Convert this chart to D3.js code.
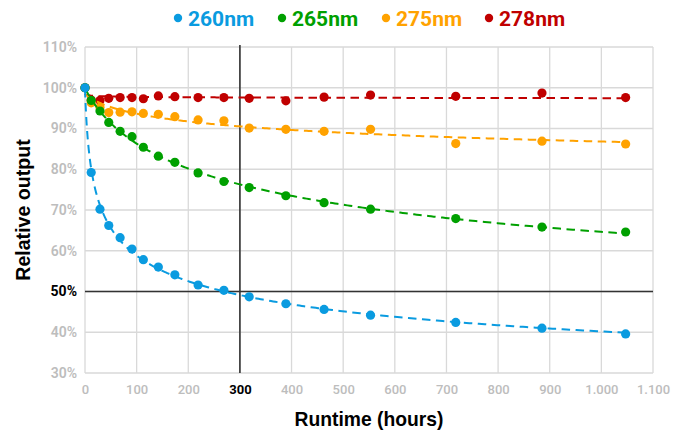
<!DOCTYPE html>
<html><head><meta charset="utf-8">
<script src="https://cdn.jsdelivr.net/npm/d3@7"></script>
<style>body{margin:0;background:#fff}</style>
</head><body><svg id="c" width="681" height="431"></svg>
<script>
// ---- data ----
const hours = [0,12,29,46,68,91,113,142,174,219,269,318,389,463,553,718,885,1047];
const s260 = [100,79.2,70.2,66.2,63.2,60.4,57.8,56.0,54.1,51.6,50.3,48.7,47.0,45.6,44.2,42.4,41.0,39.6];
const s265 = [100,96.9,94.3,91.5,89.3,88.0,85.4,83.2,81.7,79.1,77.0,75.5,73.5,71.8,70.2,67.9,65.8,64.6];
const s275 = [100,96.3,95.2,93.9,94.0,94.1,93.7,93.5,92.9,92.1,91.9,90.1,89.8,89.3,89.8,86.3,86.9,86.2];
const s278 = [100,97.0,96.9,97.4,97.6,97.6,97.3,98.0,97.8,97.6,97.6,97.4,96.8,97.7,98.2,97.9,98.7,97.6];
const seriesNames = ["260nm","265nm","275nm","278nm"];
const seriesColors = ["#0a9be0","#00a000","#ffa200","#c00000"];
const xTicks = [0,100,200,300,400,500,600,700,800,900,1000,1100];
const yTicks = [30,40,50,60,70,80,90,100,110];
const xMark = 300, yMark = 50;

const series = [s260,s265,s275,s278].map((v,i)=>({name:seriesNames[i],color:seriesColors[i],values:v}));

const W=681,H=431, m={left:85,right:28,top:47,bottom:58};
const svg=d3.select("#c");
const x=d3.scaleLinear().domain([0,1100]).range([m.left,W-m.right]);
const y=d3.scaleLinear().domain([30,110]).range([H-m.bottom,m.top]);
const loc=d3.formatLocale({decimal:",",thousands:".",grouping:[3],currency:["",""]});
const fx=loc.format(",");
const font="Roboto, 'Liberation Sans', Arial, sans-serif";
const tfont="'Liberation Sans', Arial, Helvetica, sans-serif";

// grid
const g=svg.append("g");
g.selectAll(".vg").data(xTicks).join("line")
 .attr("x1",d=>x(d)).attr("x2",d=>x(d)).attr("y1",y(30)).attr("y2",y(110))
 .attr("stroke","#d9d9d9").attr("stroke-width",1.3);
g.selectAll(".hg").data(yTicks).join("line")
 .attr("x1",x(0)).attr("x2",x(1100)).attr("y1",d=>y(d)).attr("y2",d=>y(d))
 .attr("stroke","#d9d9d9").attr("stroke-width",1.3);

// axes labels
const xa=d3.axisBottom(x).tickValues(xTicks).tickFormat(fx).tickSize(0).tickPadding(12);
const xg=svg.append("g").attr("transform",`translate(0,${y(30)})`).call(xa);
xg.select(".domain").remove();
xg.selectAll("text").attr("font-family",font).attr("font-size",13).attr("font-weight",d=>d===xMark?700:500)
 .attr("fill",d=>d===xMark?"#000":"#bdbdbd");
const ya=d3.axisLeft(y).tickValues(yTicks).tickFormat(d=>d+"%").tickSize(0).tickPadding(8);
const yg=svg.append("g").attr("transform",`translate(${x(0)},0)`).call(ya);
yg.select(".domain").remove();
yg.selectAll("text").attr("font-family",font).attr("font-size",14).attr("font-weight",d=>d===yMark?700:600)
 .attr("fill",d=>d===yMark?"#000":"#bdbdbd");

// reference lines
svg.append("line").attr("x1",x(xMark)).attr("x2",x(xMark)).attr("y1",y(30)).attr("y2",y(110)-2)
 .attr("stroke","#333").attr("stroke-width",1.6);
svg.append("line").attr("x1",x(0)).attr("x2",x(1100)).attr("y1",y(yMark)).attr("y2",y(yMark))
 .attr("stroke","#333").attr("stroke-width",1.6);

// power fit y = a*(x+c)^b
function fit(xs,ys){
  let best=null;
  for(let c=0.5;c<=80;c+=0.5){
    const lx=xs.map(v=>Math.log(v+c)), ly=ys.map(v=>Math.log(v));
    const mx=d3.mean(lx), my=d3.mean(ly);
    let sxy=0,sxx=0; lx.forEach((v,i)=>{sxy+=(v-mx)*(ly[i]-my);sxx+=(v-mx)*(v-mx);});
    const b=sxy/sxx, a=Math.exp(my-b*mx);
    const sse=d3.sum(xs,(v,i)=>Math.pow(a*Math.pow(v+c,b)-ys[i],2));
    if(!best||sse<best.sse) best={a,b,c,sse};
  }
  return t=>best.a*Math.pow(t+best.c,best.b);
}

const order=[3,2,1,0];
order.forEach(i=>{
  const s=series[i];
  const f=fit(hours,s.values);
  const xmax=d3.max(hours);
  const pts=d3.range(0,301).map(k=>{const t=xmax*Math.pow(k/300,2);return [t,f(t)];});
  svg.append("path").datum(pts)
    .attr("d",d3.line().x(d=>x(d[0])).y(d=>y(Math.min(110,d[1]))))
    .attr("fill","none").attr("stroke",s.color).attr("stroke-width",2).attr("stroke-dasharray","8.5,5.5");
  svg.append("g").selectAll("circle").data(hours.map((h,j)=>[h,s.values[j]])).join("circle")
    .attr("cx",d=>x(d[0])).attr("cy",d=>y(d[1])).attr("r",4.6).attr("fill",s.color);
});

// axis titles
svg.append("text").attr("x",(x(0)+x(1100))/2).attr("y",426).attr("text-anchor","middle")
 .attr("font-family",tfont).attr("font-weight",700).attr("font-size",19.3).attr("fill","#000").text("Runtime (hours)");
svg.append("text").attr("transform",`translate(30,${(y(30)+y(110))/2}) rotate(-90)`).attr("text-anchor","middle")
 .attr("font-family",tfont).attr("font-weight",700).attr("font-size",19.6).attr("fill","#000").text("Relative output");

// legend
const legX=[178,282,386,489];
series.forEach((s,i)=>{
  svg.append("circle").attr("cx",legX[i]).attr("cy",18).attr("r",4.2).attr("fill",s.color);
  svg.append("text").attr("x",legX[i]+10).attr("y",25.5).attr("font-family",font).attr("font-weight",700)
   .attr("font-size",21).attr("fill",s.color).text(s.name);
});
</script></body></html>
